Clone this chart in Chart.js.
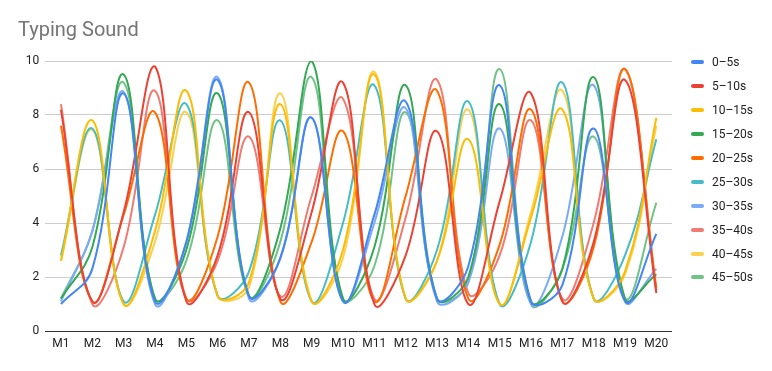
<!DOCTYPE html>
<html>
<head>
<meta charset="utf-8">
<title>Typing Sound</title>
<script src="https://cdn.jsdelivr.net/npm/chart.js"></script>
<style>
  html, body { margin: 0; padding: 0; background: #fff; }
  #wrap { position: relative; width: 772px; height: 371px; }
  #legend { position: absolute; left: 691px; top: 0; font: 12px Roboto, sans-serif; color: #222; }
  .item { position: absolute; left: 0; height: 14px; line-height: 14px; white-space: nowrap; }
  .sw { position: absolute; left: 0; top: 5px; width: 13px; height: 4px; border-radius: 2px; }
  .lbl { position: absolute; left: 21px; top: 0; }
</style>
</head>
<body>
<div id="wrap">
  <canvas id="typingChart" width="772" height="371"></canvas>
  <div id="legend"></div>
</div>
<script>
// Datos
const categories = ['M1', 'M2', 'M3', 'M4', 'M5', 'M6', 'M7', 'M8', 'M9', 'M10',
                    'M11', 'M12', 'M13', 'M14', 'M15', 'M16', 'M17', 'M18', 'M19', 'M20'];
const yTicks = [0, 2, 4, 6, 8, 10];

const seriesNames = ['0–5s', '5–10s', '10–15s', '15–20s', '20–25s',
                     '25–30s', '30–35s', '35–40s', '40–45s', '45–50s'];
const seriesColors = ['#4285F4', '#EA4335', '#FBBC04', '#34A853', '#FF6D01',
                      '#46BDC6', '#7BAAF7', '#F07B72', '#FCD04F', '#71C287'];

const s0_5   = [1.0, 2.3, 8.8, 1.1, 3.3, 9.3, 1.3, 2.7, 7.9, 1.1, 4.3, 8.5, 1.2, 2.4, 9.1, 1.1, 1.7, 7.5, 1.1, 3.6];
const s5_10  = [8.2, 1.1, 4.4, 9.8, 1.1, 2.8, 8.1, 1.2, 4.4, 9.2, 1.0, 2.8, 7.4, 1.0, 4.8, 8.8, 1.1, 3.3, 9.3, 1.4];
const s10_15 = [2.6, 7.8, 1.0, 3.7, 8.9, 1.3, 1.8, 8.4, 1.1, 3.0, 9.5, 1.2, 2.6, 7.1, 1.0, 4.2, 8.2, 1.2, 2.2, 7.9];
const s15_20 = [1.2, 3.1, 9.5, 1.2, 3.0, 8.8, 1.3, 3.8, 10.0, 1.2, 3.1, 9.1, 1.2, 2.0, 8.4, 1.1, 2.3, 9.4, 1.2, 2.1];
const s20_25 = [7.6, 1.1, 4.3, 8.1, 1.2, 3.5, 9.2, 1.1, 3.3, 7.4, 1.1, 5.0, 8.9, 1.2, 3.2, 8.2, 1.1, 3.1, 9.7, 1.6];
const s25_30 = [2.8, 7.5, 1.1, 4.3, 8.4, 1.3, 2.2, 7.8, 1.1, 4.0, 9.1, 1.2, 3.0, 8.5, 1.0, 3.3, 9.2, 1.2, 2.8, 7.1];
const s30_35 = [1.1, 3.7, 8.85, 1.0, 3.3, 9.4, 1.2, 2.7, 7.9, 1.1, 4.0, 8.25, 1.1, 1.8, 7.5, 1.0, 3.5, 9.1, 1.1, 2.3];
const s35_40 = [8.4, 1.0, 3.1, 8.9, 1.2, 2.6, 7.2, 1.3, 5.0, 8.6, 1.2, 4.2, 9.3, 1.4, 2.8, 7.8, 1.2, 4.0, 9.7, 1.5];
const s40_45 = [2.6, 7.45, 1.0, 3.3, 8.1, 1.3, 1.6, 8.8, 1.1, 2.7, 9.6, 1.2, 2.6, 8.2, 1.0, 4.4, 8.9, 1.2, 2.1, 7.6];
const s45_50 = [1.2, 3.7, 9.2, 1.2, 2.6, 7.8, 1.3, 3.3, 9.4, 1.2, 2.4, 8.1, 1.2, 1.8, 9.7, 1.0, 2.3, 7.2, 1.2, 4.75];

const seriesValues = [s0_5, s5_10, s10_15, s15_20, s20_25, s25_30, s30_35, s35_40, s40_45, s45_50];

const datasets = seriesNames.map((name, i) => ({
    label: name,
    data: seriesValues[i],
    borderColor: seriesColors[i],
    backgroundColor: seriesColors[i],
    borderWidth: 2,
    pointRadius: 0,
    tension: 0.4,
    fill: false
}));

const ctx = document.getElementById('typingChart').getContext('2d');
new Chart(ctx, {
    type: 'line',
    data: { labels: categories, datasets: datasets },
    options: {
        responsive: false,
        animation: false,
        layout: { padding: { left: 18, right: 100, top: 0, bottom: 0 } },
        plugins: {
            legend: { display: false },
            tooltip: { enabled: false },
            title: {
                display: true,
                text: 'Typing Sound',
                align: 'start',
                color: '#757575',
                font: { family: 'Roboto', size: 20, weight: 'normal' },
                padding: { top: 19, bottom: 18 }
            }
        },
        scales: {
            x: {
                offset: true,
                grid: { display: false, drawTicks: false },
                border: { display: false },
                ticks: { color: '#222', padding: 6, font: { family: 'Roboto', size: 12 }, maxRotation: 0, autoSkip: false },
                afterFit: (scale) => { scale.height = 40; }
            },
            y: {
                min: 0,
                max: 10,
                afterBuildTicks: (scale) => { scale.ticks = yTicks.map(v => ({ value: v })); },
                grid: {
                    drawTicks: false,
                    color: (c) => c.tick && c.tick.value === 0 ? '#333333' : '#cccccc'
                },
                border: { display: false },
                ticks: { color: '#222', padding: 6, font: { family: 'Roboto', size: 12 } },
                afterFit: (scale) => { scale.width = 27.3; }
            }
        }
    }
});

// Leyenda a la derecha
const legend = document.getElementById('legend');
seriesNames.forEach((name, i) => {
    const item = document.createElement('div');
    item.className = 'item';
    item.style.top = (62.3 + i * 23.9 - 7) + 'px';
    const sw = document.createElement('span');
    sw.className = 'sw';
    sw.style.background = seriesColors[i];
    const lbl = document.createElement('span');
    lbl.className = 'lbl';
    lbl.textContent = name;
    item.appendChild(sw);
    item.appendChild(lbl);
    legend.appendChild(item);
});
</script>
</body>
</html>
